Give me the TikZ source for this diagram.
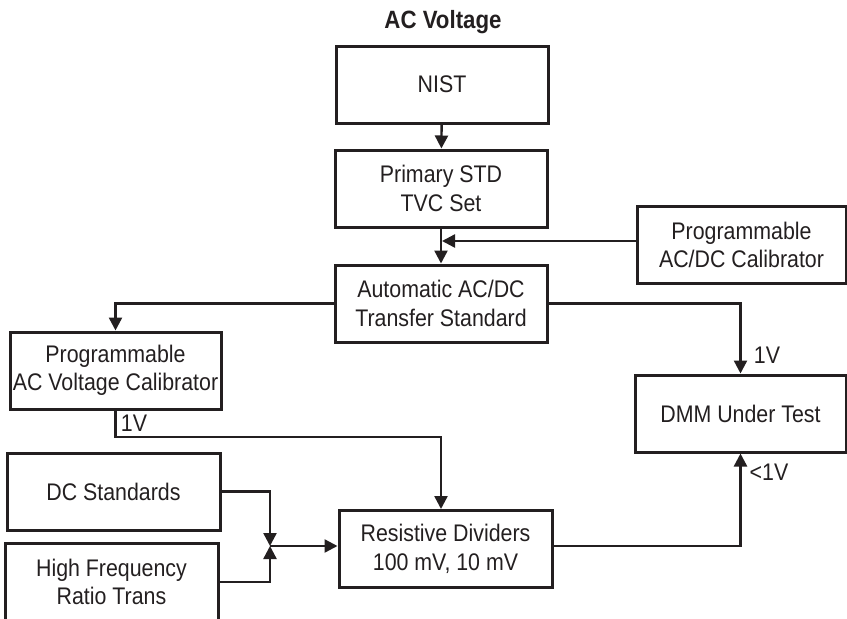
\documentclass[tikz,border=0pt]{standalone}
\usepackage{fontspec}
\setmainfont[FakeStretch=0.89]{Liberation Sans}
\usetikzlibrary{arrows.meta}
\definecolor{ink}{HTML}{231F20}
\begin{document}
\begin{tikzpicture}[x=1pt,y=-1pt,
  blk/.style={draw=ink,line width=3pt,minimum width=212pt,minimum height=77pt,inner sep=0pt,align=center,font=\fontsize{24}{28.5}\selectfont,text=ink},
  conn/.style={draw=ink,line width=2.4pt,-{Triangle[length=13pt,width=13pt]}},
  lbl/.style={font=\fontsize{24}{28}\selectfont,text=ink,inner sep=0pt}]
\useasboundingbox (0,0) rectangle (847,619);
\node[font=\bfseries\fontsize{25}{28}\selectfont,text=ink] (title) at (443,22) {AC Voltage};
\node[blk] (nist) at (442,84.5) {NIST};
\node[blk] (prim) at (441,188.5) {Primary STD\\TVC Set};
\node[blk,minimum width=209pt] (pacdc) at (741.5,245) {Programmable\\AC/DC Calibrator};
\node[blk] (auto) at (441,303.5) {Automatic AC/DC\\Transfer Standard};
\node[blk,minimum width=211pt] (pacv) at (115.5,370.5) {Programmable\\AC Voltage Calibrator};
\node[blk,minimum width=211pt] (dmm) at (740.5,413.5) {DMM Under Test};
\node[blk,minimum width=213pt] (dc) at (113.5,491.5) {DC Standards};
\node[blk,minimum width=213pt] (hf) at (111.5,582) {High Frequency\\Ratio Trans};
\node[blk,minimum width=213pt] (res) at (445.5,549) {Resistive Dividers\\100 mV, 10 mV};
\coordinate (j1) at (442,241);
\coordinate (b1) at (441,437);
\coordinate (jn) at (270,546);
\draw[conn] (nist) -- (prim);
\draw[conn] (prim) -- (auto);
\draw[conn] (pacdc.west |- j1) -- (j1);
\draw[conn] (auto.west) -| (pacv.north);
\draw[conn] (auto.east) -| (dmm.north);
\draw[conn] (pacv.south) |- (b1) -- (res.north -| b1);
\draw[conn] (dc.east) -| (jn);
\draw[conn] (hf.east) -| (jn);
\draw[conn] (jn) -- (res.west |- jn);
\draw[conn] (res.east |- jn) -| (dmm.south);
\node[lbl] (v1a) at (767,355) {1V};
\node[lbl] (v1b) at (134,423) {1V};
\node[lbl] (v1c) at (769,472) {<1V};
\end{tikzpicture}
\end{document}
